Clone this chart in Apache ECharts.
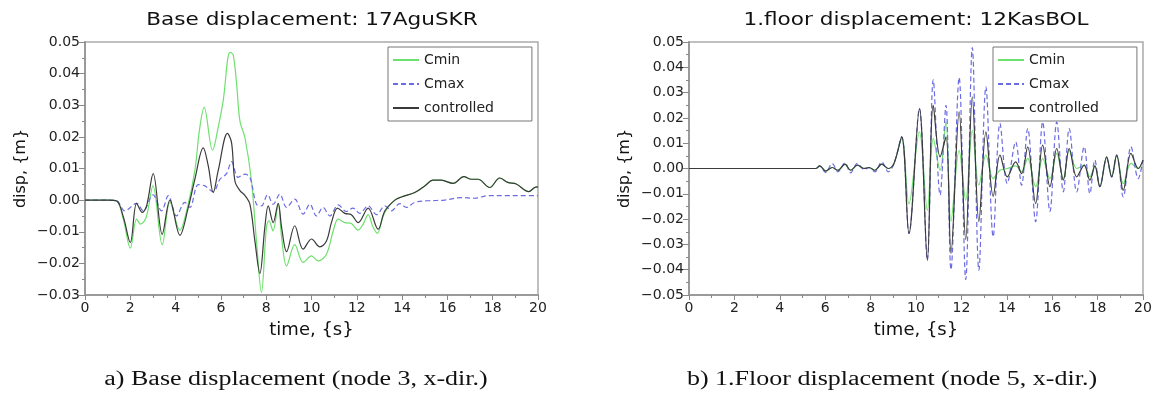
<!DOCTYPE html>
<html>
<head>
<meta charset="utf-8">
<script src="https://cdn.jsdelivr.net/npm/echarts@6/dist/echarts.min.js"></script>
<style>
  html, body { margin: 0; padding: 0; background: #fff; }
  #main { width: 1159px; height: 397px; }
</style>
</head>
<body>
<div id="main"></div>
<script>
// ---------- a) base displacement (17AguSKR) ----------
var baseTimeCmin = [0, 1.0, 1.4, 1.7, 2.0, 2.28, 2.45, 2.7, 3.0, 3.41, 3.75, 4.19, 4.5, 4.85, 5.05, 5.26, 5.63, 5.88, 6.1, 6.4, 6.54, 6.69, 6.84, 7.06, 7.35, 7.57, 7.79, 8.01, 8.12, 8.3, 8.53, 8.68, 8.9, 9.26, 9.63, 10.0, 10.29, 10.66, 10.96, 11.18, 11.47, 11.76, 12.06, 12.28, 12.5, 12.72, 12.91, 13.16, 13.38, 13.68, 13.97, 14.56, 15.0, 15.37, 15.73, 16.25, 16.73, 17.06, 17.35, 17.87, 18.31, 18.67, 19.04, 19.59, 19.85, 20];
var baseCmin = [0, 0, -0.0003, -0.0063, -0.0152, -0.006, -0.0076, -0.0055, 0.0045, -0.0141, -0.0007, -0.0095, -0.003, 0.0093, 0.022, 0.0293, 0.0158, 0.023, 0.0314, 0.0467, 0.046, 0.037, 0.025, 0.0198, 0.006, -0.0129, -0.0292, -0.0086, -0.0065, -0.0097, -0.0013, -0.0118, -0.0208, -0.0141, -0.0197, -0.0176, -0.0192, -0.0171, -0.0097, -0.006, -0.0071, -0.0074, -0.0095, -0.0076, -0.0046, -0.0086, -0.0105, -0.005, -0.0023, 0, 0.001, 0.0024, 0.0045, 0.0063, 0.0063, 0.0053, 0.0074, 0.0066, 0.0066, 0.004, 0.007, 0.0056, 0.0051, 0.0027, 0.004, 0.0042];

var baseTimeCmax = [0, 1.0, 1.4, 1.76, 2.28, 2.57, 3.0, 3.38, 3.68, 4.04, 4.41, 4.63, 5.0, 5.29, 5.66, 5.96, 6.25, 6.47, 6.76, 7.06, 7.28, 7.57, 7.79, 8.06, 8.31, 8.6, 8.9, 9.26, 9.63, 9.93, 10.22, 10.51, 10.81, 11.18, 11.54, 11.83, 12.13, 12.5, 12.87, 13.24, 13.53, 13.9, 14.19, 14.56, 15.15, 15.88, 16.62, 17.2, 17.79, 18.53, 19.26, 20];
var baseCmax = [0, 0, -0.0002, -0.0034, -0.001, -0.0034, 0.0017, -0.0034, 0.0014, -0.005, -0.0007, -0.0023, 0.0049, 0.0045, 0.0027, 0.0066, 0.0084, 0.0122, 0.0072, 0.0082, 0.0072, -0.0013, -0.0018, 0.0017, -0.0013, 0.0019, -0.0023, 0.0003, -0.0044, -0.0013, -0.005, -0.0023, -0.005, -0.0015, -0.0036, -0.0025, -0.0042, -0.0018, -0.0046, -0.0018, -0.0034, -0.0011, -0.0023, -0.0007, -0.0002, 0, 0.0008, 0.0006, 0.0014, 0.0014, 0.0014, 0.0014];

var baseTimeCtrl = [0, 1.0, 1.4, 1.7, 2.0, 2.28, 2.53, 2.72, 3.01, 3.41, 3.75, 4.19, 4.56, 4.85, 5.22, 5.44, 5.66, 5.88, 6.29, 6.47, 6.62, 6.84, 7.06, 7.28, 7.5, 7.72, 7.94, 8.09, 8.31, 8.53, 8.68, 8.9, 9.26, 9.63, 10.0, 10.37, 10.66, 10.88, 11.15, 11.47, 11.76, 12.06, 12.5, 12.94, 13.24, 13.68, 13.97, 14.56, 15.0, 15.37, 15.73, 16.25, 16.73, 17.06, 17.35, 17.87, 18.31, 18.67, 19.04, 19.59, 19.85, 20];
var baseCtrl = [0, 0, -0.0003, -0.0055, -0.0134, -0.001, -0.0039, -0.0018, 0.0084, -0.0108, 0, -0.0111, -0.0023, 0.0066, 0.0165, 0.0109, 0.0024, 0.0093, 0.0211, 0.0182, 0.006, 0.003, 0.0015, -0.0013, -0.0129, -0.0232, -0.0086, -0.0018, -0.0071, -0.001, -0.0086, -0.0163, -0.0081, -0.0155, -0.0123, -0.0148, -0.0129, -0.0071, -0.0025, -0.0042, -0.0046, -0.0071, -0.0025, -0.0092, -0.0034, 0, 0.001, 0.0024, 0.0045, 0.0063, 0.0063, 0.0053, 0.0074, 0.0066, 0.0066, 0.004, 0.007, 0.0056, 0.0051, 0.0027, 0.004, 0.0042];

// ---------- b) 1.floor displacement (12KasBOL) ----------
var floorTime = [0, 5.0, 5.58, 5.76, 6.02, 6.31, 6.56, 6.87, 7.12, 7.42, 7.71, 7.93, 8.19, 8.49, 8.78, 9.03, 9.37, 9.69, 10.15, 10.5, 10.76, 11.06, 11.32, 11.54, 11.9, 12.19, 12.48, 12.77, 13.08, 13.4, 13.7, 14.02, 14.39, 14.65, 14.92, 15.27, 15.58, 15.9, 16.2, 16.49, 16.75, 17.08, 17.41, 17.66, 17.88, 18.1, 18.4, 18.62, 18.84, 19.13, 19.47, 19.79, 20];
var floorCmin = [0, 0, 0, 0.001, -0.001, 0.0004, -0.0007, 0.0017, -0.0007, 0.0013, 0, 0.0004, -0.0007, 0.0017, 0, 0.002, 0.0118, -0.014, 0.0145, -0.0165, 0.0119, -0.0007, 0.0184, -0.021, 0.0072, -0.0125, 0.015, -0.0066, 0.0053, -0.004, -0.0007, 0, 0.001, -0.0013, 0.004, -0.0072, 0.004, -0.004, 0.006, -0.004, 0.0072, 0, 0.0013, -0.0033, 0.001, -0.0072, 0.0046, -0.0033, 0.0053, -0.006, 0.002, 0, 0.0033];
var floorCmax = [0, 0, 0, 0.0009, -0.0016, 0.002, -0.0013, 0.0022, -0.0017, 0.002, -0.0004, 0.0003, -0.0013, 0.0026, -0.0013, 0.002, 0.0125, -0.0257, 0.0237, -0.0362, 0.035, -0.0105, 0.025, -0.04, 0.036, -0.0439, 0.0478, -0.0402, 0.0323, -0.027, 0.0178, -0.0059, 0.0105, -0.0066, 0.0158, -0.021, 0.0184, -0.017, 0.0184, -0.0092, 0.0158, -0.0092, 0.0086, -0.0099, 0.0033, -0.0072, 0.004, -0.0033, 0.0053, -0.0112, 0.0086, -0.004, 0.0033];
var floorCtrl = [0, 0, 0, 0.001, -0.001, 0.0004, -0.0007, 0.0017, -0.0007, 0.0013, 0, 0.0004, -0.0007, 0.0017, 0, 0.002, 0.0125, -0.0257, 0.0237, -0.0362, 0.025, 0.0046, 0.0125, -0.0336, 0.0224, -0.028, 0.0283, -0.021, 0.0145, -0.011, 0.0053, -0.0033, 0.0026, -0.002, 0.0086, -0.0138, 0.0092, -0.0072, 0.0079, -0.0046, 0.0079, -0.0033, 0.0013, -0.0046, 0.001, -0.0072, 0.0046, -0.0033, 0.0053, -0.0086, 0.006, 0, 0.0033];

var seriesNames = ['Cmin', 'Cmax', 'controlled'];
var seriesColors = ['#6ee06e', '#6c6ce2', '#3a3a3a'];

function pairs(times, vals) {
  return times.map(function (t, i) { return [t, vals[i]]; });
}

function yLabel(v) {
  return (v < -1e-9 ? '\u2212' : '') + Math.abs(v).toFixed(2);
}

var font = 'DejaVu Sans';

function makeX(idx) {
  return {
    gridIndex: idx, type: 'value', min: 0, max: 20, interval: 2,
    name: 'time, {s}', nameLocation: 'middle', nameGap: 26,
    nameTextStyle: { fontFamily: font, fontSize: 18, color: '#111' },
    axisLine: { show: true, onZero: false, lineStyle: { color: '#9a9a9a', width: 2 } },
    axisTick: { show: true, length: 5, lineStyle: { color: '#888' } },
    minorTick: { show: true, splitNumber: 2, length: 3, lineStyle: { color: '#888' } },
    splitLine: { show: false },
    axisLabel: { fontFamily: font, fontSize: 14, color: '#222', margin: 6 }
  };
}

function makeY(idx, min, max) {
  return {
    gridIndex: idx, type: 'value', min: min, max: max, interval: 0.01,
    name: 'disp, {m}', nameLocation: 'middle', nameGap: 56, nameRotate: 90,
    nameTextStyle: { fontFamily: font, fontSize: 16, color: '#111' },
    axisLine: { show: true, onZero: false, lineStyle: { color: '#9a9a9a', width: 2 } },
    axisTick: { show: true, length: 6, lineStyle: { color: '#888' } },
    minorTick: { show: true, splitNumber: 2, length: 3, lineStyle: { color: '#888' } },
    splitLine: { show: false },
    axisLabel: { fontFamily: font, fontSize: 14, color: '#222', margin: 5, formatter: yLabel }
  };
}

function makeSeries(name, idx, data, k) {
  return {
    name: name, type: 'line', xAxisIndex: idx, yAxisIndex: idx,
    data: data, smooth: 0.35, symbol: 'none', showSymbol: false,
    animation: false, z: k === 2 ? 3 : 2,
    lineStyle: { color: seriesColors[k], width: 1.2, type: k === 1 ? [5, 3] : 'solid' },
    itemStyle: { color: seriesColors[k] }
  };
}

function makeLegend(left) {
  return {
    data: seriesNames, orient: 'vertical', left: left, top: 47,
    itemWidth: 26, itemHeight: 14, itemGap: 10, selectedMode: false,
    padding: [6, 38, 6, 4],
    itemStyle: { opacity: 0 },
    backgroundColor: '#fff', borderColor: '#777', borderWidth: 1,
    textStyle: { fontFamily: font, fontSize: 14, color: '#222' }
  };
}

function caption(text, x, y, size, family, scale) {
  return {
    type: 'text', x: x, y: y, scaleX: scale,
    style: { text: text, font: size + 'px "' + family + '"', fill: '#111', align: 'center', verticalAlign: 'middle' }
  };
}

var chart = echarts.init(document.getElementById('main'), null, { renderer: 'canvas' });

chart.setOption({
  backgroundColor: '#fff',
  animation: false,
  grid: [
    { left: 85, top: 42, width: 453, height: 253, show: true, borderColor: '#aaa', borderWidth: 1.5 },
    { left: 689, top: 42, width: 454, height: 253, show: true, borderColor: '#aaa', borderWidth: 1.5 }
  ],
  xAxis: [makeX(0), makeX(1)],
  yAxis: [makeY(0, -0.03, 0.05), makeY(1, -0.05, 0.05)],
  legend: [makeLegend(388), makeLegend(993)],
  series: [
    makeSeries('Cmin', 0, pairs(baseTimeCmin, baseCmin), 0),
    makeSeries('Cmax', 0, pairs(baseTimeCmax, baseCmax), 1),
    makeSeries('controlled', 0, pairs(baseTimeCtrl, baseCtrl), 2),
    makeSeries('Cmin', 1, pairs(floorTime, floorCmin), 0),
    makeSeries('Cmax', 1, pairs(floorTime, floorCmax), 1),
    makeSeries('controlled', 1, pairs(floorTime, floorCtrl), 2)
  ],
  graphic: [
    caption('Base displacement: 17AguSKR', 312, 21, 17, 'DejaVu Sans', 1.27),
    caption('1.floor displacement: 12KasBOL', 916, 21, 17, 'DejaVu Sans', 1.27),
    caption('a) Base displacement (node 3, x-dir.)', 296, 380, 20, 'Liberation Serif', 1.3),
    caption('b) 1.Floor displacement (node 5, x-dir.)', 892, 380, 20, 'Liberation Serif', 1.3)
  ]
});
</script>
</body>
</html>
